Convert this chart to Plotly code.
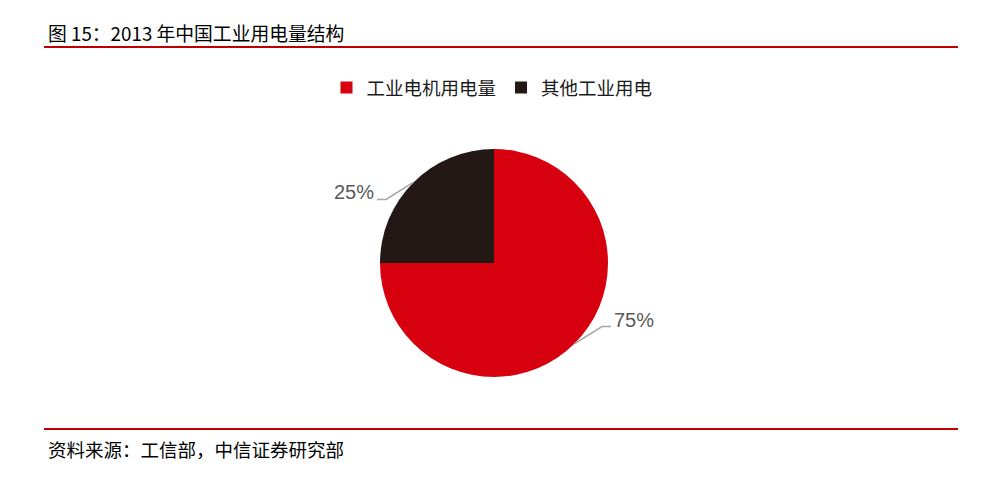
import math
import plotly.graph_objects as go

# data
labels = ['工业电机用电量', '其他工业用电']
shares = [75, 25]
colors = ['#D7000F', '#231815']

title_text = '图 15：2013 年中国工业用电量结构'
source_text = '资料来源：工信部，中信证券研究部'

# the page body adds an 8px margin, so work in page pixels and shift
OFF = 8
W, H = 1003 - 2 * OFF, 489 - 2 * OFF


def px(x):
    return (x - OFF) / W


def py(y):
    return 1 - (y - OFF) / H


# pie placement in page pixels (center + radius)
cx, cy, R = 494, 263, 114

fig = go.Figure(go.Pie(
    labels=labels,
    values=shares,
    marker=dict(colors=colors, line=dict(width=0)),
    sort=False,
    direction='clockwise',
    rotation=0,
    textinfo='none',
    hoverinfo='label+percent',
    domain=dict(x=[px(cx - R), px(cx + R)],
                y=[py(cy + R), py(cy - R)]),
))

# leader lines + percentage labels, placed from the slice mid angles
shapes = []
annotations = []
total = sum(shares)
cum = 0
for v in shares:
    mid = (cum + v / 2) / total * 2 * math.pi   # clockwise from 12 o'clock
    cum += v
    ex = cx + R * math.sin(mid)
    ey = cy - R * math.cos(mid)
    sx = 1 if math.sin(mid) >= 0 else -1
    sy = 1 if -math.cos(mid) >= 0 else -1
    bx = ex + sx * 0.24 * R
    by = ey - sy * 0.15 * R
    tx = bx + sx * 9
    path = 'M {:.4f} {:.4f} L {:.4f} {:.4f} L {:.4f} {:.4f}'.format(
        px(ex), py(ey), px(bx), py(by), px(tx), py(by))
    shapes.append(dict(type='path', path=path, xref='paper', yref='paper',
                       line=dict(color='#A6A6A6', width=1.5)))
    annotations.append(dict(
        x=px(tx + sx * 1), y=py(by - 7), xref='paper', yref='paper',
        text='{}%'.format(round(v / total * 100)), showarrow=False,
        xanchor='left' if sx > 0 else 'right', yanchor='middle',
        font=dict(family='Liberation Sans Narrow, Arial Narrow, sans-serif',
                  size=20, color='#595959')))

# header / footer rules
for yy in (47, 429):
    shapes.append(dict(type='line', xref='paper', yref='paper',
                       x0=px(44), x1=px(958), y0=py(yy), y1=py(yy),
                       line=dict(color='#C00000', width=2)))

annotations.append(dict(x=px(46), y=py(32), xref='paper', yref='paper',
                        text=title_text, showarrow=False, xanchor='left',
                        yanchor='middle',
                        font=dict(size=18.8, color='#000000')))
annotations.append(dict(x=px(46), y=py(449), xref='paper', yref='paper',
                        text=source_text, showarrow=False, xanchor='left',
                        yanchor='middle',
                        font=dict(size=18.5, color='#000000')))

fig.update_layout(
    width=W, height=H,
    margin=dict(l=0, r=0, t=0, b=0),
    paper_bgcolor='white',
    plot_bgcolor='white',
    font=dict(family='Noto Sans CJK SC, sans-serif'),
    showlegend=True,
    legend=dict(orientation='h', x=px(492), xanchor='center',
                y=py(88), yanchor='middle',
                font=dict(size=18.5, color='#1A1A1A'),
                itemclick=False, itemdoubleclick=False),
    shapes=shapes,
    annotations=annotations,
)

fig.write_html('out.html')
